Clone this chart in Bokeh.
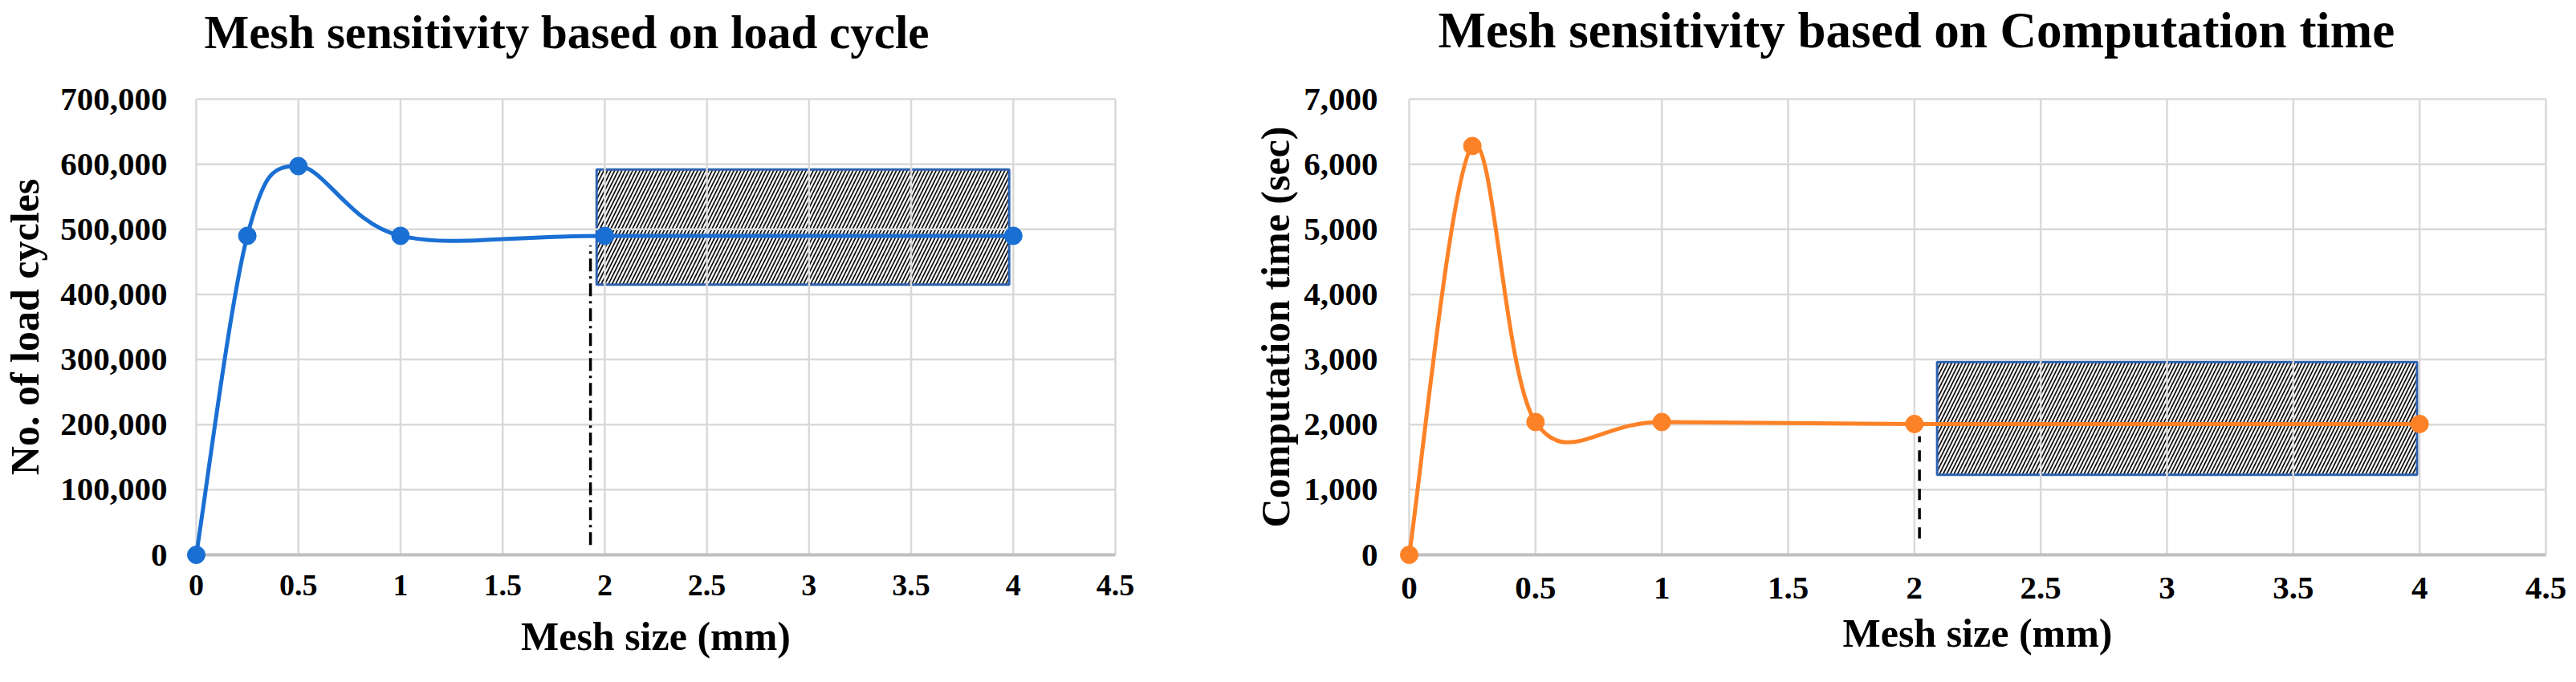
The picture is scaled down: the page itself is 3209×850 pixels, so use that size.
from bokeh.plotting import figure
from bokeh.layouts import row
from bokeh.models import Range1d, FixedTicker, NumeralTickFormatter, Title, ColumnDataSource
from bokeh.embed import file_html
from bokeh.resources import INLINE

# ---------------- data ----------------
mesh_size = [0, 0.25, 0.5, 1, 2, 4]
load_cycles = [0, 490000, 597000, 490000, 490000, 490000]
comp_time = [0, 6280, 2040, 2040, 2010, 2010]

x_ticks = [0, 0.5, 1, 1.5, 2, 2.5, 3, 3.5, 4, 4.5]
y_ticks_cycles = [0, 100000, 200000, 300000, 400000, 500000, 600000, 700000]
y_ticks_time = [0, 1000, 2000, 3000, 4000, 5000, 6000, 7000]

# highlighted (converged) region and guide line
box_cycles = dict(left=[1.96], right=[3.98], bottom=[415000], top=[592000])
box_time = dict(left=[2.09], right=[3.99], bottom=[1230], top=[2960])
guide_cycles = dict(x=[1.93], y0=[15000], y1=[475000])
guide_time = dict(x=[2.02], y0=[250], y1=[1820])

title_cycles = "Mesh sensitivity based on load cycle"
title_time = "Mesh sensitivity based on Computation time"
xlabel = "Mesh size (mm)"
ylabel_cycles = "No. of load cycles"
ylabel_time = "Computation time (sec)"

FONT = "Liberation Serif"
GRID = "#d9d9d9"


def smooth_segments(xs, ys, k=1.0 / 6.0):
    """Cubic Bezier segments (Catmull-Rom style smoothing, like a spreadsheet 'smoothed line')."""
    n = len(xs)
    seg = dict(x0=[], y0=[], x1=[], y1=[], cx0=[], cy0=[], cx1=[], cy1=[])
    for i in range(n - 1):
        a = i - 1 if i > 0 else i
        d = i + 2 if i + 2 < n else i + 1
        seg["x0"].append(xs[i]); seg["y0"].append(ys[i])
        seg["x1"].append(xs[i + 1]); seg["y1"].append(ys[i + 1])
        seg["cx0"].append(xs[i] + (xs[i + 1] - xs[a]) * k)
        seg["cy0"].append(ys[i] + (ys[i + 1] - ys[a]) * k)
        seg["cx1"].append(xs[i + 1] - (xs[d] - xs[i]) * k)
        seg["cy1"].append(ys[i + 1] - (ys[d] - ys[i]) * k)
    return seg


def make_chart(ys, y_ticks, color, box, guide, guide_dash, title, ylabel, cfg):
    pw, ph, pad = cfg["plot_w"], cfg["plot_h"], cfg["pad"]
    xspan = x_ticks[-1] - x_ticks[0]
    yspan = y_ticks[-1] - y_ticks[0]
    xp = pad * xspan / pw
    yp = pad * yspan / ph
    p = figure(
        frame_width=pw + 2 * pad, frame_height=ph + 2 * pad,
        x_range=Range1d(x_ticks[0] - xp, x_ticks[-1] + xp),
        y_range=Range1d(y_ticks[0] - yp, y_ticks[-1] + yp),
        min_border_left=cfg["mb_left"], min_border_right=cfg["mb_right"],
        min_border_top=cfg["mb_top"], min_border_bottom=cfg["mb_bottom"],
        toolbar_location=None, output_backend="svg",
        background_fill_color="white", border_fill_color="white",
        outline_line_color=None,
    )
    p.grid.visible = False

    # chart title
    t = Title(text=title, align="left", offset=cfg["title_off"], standoff=0,
              vertical_align="bottom", text_font=FONT, text_font_style="bold",
              text_font_size=cfg["title_fs"], text_color="black")
    try:
        t.padding = dict(left=0, right=0, top=0, bottom=cfg["title_lift"])
    except Exception:
        pass
    p.title = t

    # hatched highlight box
    p.quad(left=box["left"], right=box["right"], bottom=box["bottom"], top=box["top"],
           fill_color="white", fill_alpha=1.0,
           hatch_pattern="/", hatch_color="#111111", hatch_scale=9, hatch_weight=1.7,
           line_color="#2d62b0", line_width=3)

    # gridlines (from the tick lists)
    nx = len(x_ticks)
    p.segment(x0=x_ticks, x1=x_ticks, y0=[y_ticks[0]] * nx, y1=[y_ticks[-1]] * nx,
              line_color=GRID, line_width=2.5)
    ny = len(y_ticks) - 1
    p.segment(x0=[x_ticks[0]] * ny, x1=[x_ticks[-1]] * ny, y0=y_ticks[1:], y1=y_ticks[1:],
              line_color=GRID, line_width=2.5)
    # x axis line at zero
    p.segment(x0=[x_ticks[0]], x1=[x_ticks[-1]], y0=[y_ticks[0]], y1=[y_ticks[0]],
              line_color="#bfbfbf", line_width=4)

    # guide line
    p.segment(x0=guide["x"], x1=guide["x"], y0=guide["y0"], y1=guide["y1"],
              line_color="black", line_width=3.5, line_dash=guide_dash)

    # smoothed series line + markers
    seg = smooth_segments(mesh_size, ys)
    p.bezier(source=ColumnDataSource(seg), x0="x0", y0="y0", x1="x1", y1="y1",
             cx0="cx0", cy0="cy0", cx1="cx1", cy1="cy1",
             line_color=color, line_width=5)
    p.scatter(mesh_size, ys, size=22, fill_color=color, line_color=color)

    # axes
    p.xaxis.ticker = FixedTicker(ticks=x_ticks)
    p.xaxis.formatter = NumeralTickFormatter(format="0.[0]")
    p.yaxis.ticker = FixedTicker(ticks=y_ticks)
    p.yaxis.formatter = NumeralTickFormatter(format="0,0")
    for ax in (p.xaxis[0], p.yaxis[0]):
        ax.axis_line_color = None
        ax.major_tick_line_color = None
        ax.minor_tick_line_color = None
        ax.major_tick_out = 0
        ax.major_tick_in = 0
        ax.minor_tick_out = 0
        ax.major_label_text_font = FONT
        ax.major_label_text_font_style = "bold"
        ax.major_label_text_color = "black"
        ax.axis_label_text_font = FONT
        ax.axis_label_text_font_style = "bold"
        ax.axis_label_text_color = "black"
    p.xaxis.major_label_text_font_size = cfg["xtick_fs"]
    p.yaxis.major_label_text_font_size = cfg["ytick_fs"]
    p.xaxis.major_label_standoff = cfg["xtick_so"]
    p.yaxis.major_label_standoff = cfg["ytick_so"]
    p.xaxis.axis_label = xlabel
    p.yaxis.axis_label = ylabel
    p.xaxis.axis_label_text_font_size = cfg["xlab_fs"]
    p.yaxis.axis_label_text_font_size = cfg["ylab_fs"]
    p.xaxis.axis_label_standoff = cfg["xlab_so"]
    p.yaxis.axis_label_standoff = cfg["ylab_so"]
    return p


cfg_left = dict(plot_w=1145, plot_h=568, pad=14,
                mb_left=226, mb_right=153, mb_top=104, mb_bottom=138,
                xtick_fs="38px", ytick_fs="41px", xtick_so=11, ytick_so=22,
                xlab_fs="50px", ylab_fs="50px", xlab_so=20, ylab_so=13,
                title_off=24, title_lift=37, title_fs="59px")
cfg_right = dict(plot_w=1416, plot_h=568, pad=14,
                 mb_left=185, mb_right=12, mb_top=108, mb_bottom=134,
                 xtick_fs="41px", ytick_fs="41px", xtick_so=14, ytick_so=25,
                 xlab_fs="50px", ylab_fs="50px", xlab_so=12, ylab_so=4,
                 title_off=50, title_lift=37, title_fs="63px")

p1 = make_chart(load_cycles, y_ticks_cycles, "#1a6fd3", box_cycles, guide_cycles,
                "16 6 3 6", title_cycles, ylabel_cycles, cfg_left)
p2 = make_chart(comp_time, y_ticks_time, "#fd8227", box_time, guide_time,
                "14 10", title_time, ylabel_time, cfg_right)

layout = row(p1, p2)
open("out.html", "w").write(file_html(layout, INLINE))
